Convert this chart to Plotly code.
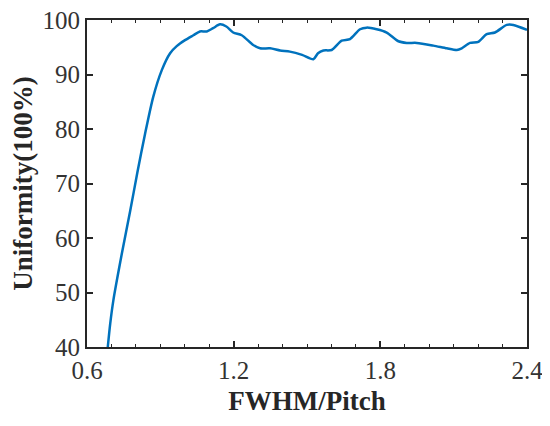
import plotly.graph_objects as go

fwhm_pitch = [0.685, 0.695, 0.708, 0.742, 0.776, 0.806, 0.837, 0.871, 0.906, 0.94, 0.967, 1.001,
              1.035, 1.062, 1.09, 1.116, 1.144, 1.17, 1.198, 1.233, 1.28, 1.308, 1.349, 1.39,
              1.43, 1.48, 1.526, 1.545, 1.567, 1.601, 1.642, 1.676, 1.717, 1.744, 1.785, 1.826,
              1.874, 1.908, 1.949, 2.017, 2.072, 2.113, 2.133, 2.167, 2.201, 2.235, 2.269,
              2.317, 2.344, 2.4]
uniformity = [40.0, 44.3, 48.6, 57.0, 64.8, 72.0, 79.0, 85.9, 90.8, 93.9, 95.2, 96.3,
              97.2, 97.9, 97.9, 98.5, 99.2, 98.8, 97.7, 97.2, 95.4, 94.8, 94.8, 94.4,
              94.2, 93.6, 92.8, 93.9, 94.4, 94.5, 96.2, 96.5, 98.3, 98.6, 98.3, 97.7,
              96.1, 95.8, 95.8, 95.3, 94.8, 94.5, 94.8, 95.8, 96.0, 97.4, 97.7,
              99.1, 99.1, 98.2]

x_ticks = [0.6, 1.2, 1.8, 2.4]
x_tick_labels = ["0.6", "1.2", "1.8", "2.4"]
y_ticks = [40, 50, 60, 70, 80, 90, 100]
y_tick_labels = ["40", "50", "60", "70", "80", "90", "100"]

fig = go.Figure()
fig.add_trace(go.Scatter(
    x=fwhm_pitch, y=uniformity, mode="lines",
    line=dict(color="#0072BD", width=2.5, shape="spline", smoothing=0.7),
    showlegend=False,
))

font_family = "Liberation Serif, Times New Roman, serif"
axis_color = "#262626"

# The page body has an 8px default margin, so the figure is offset by 8px.
fig.update_layout(
    width=542, height=418,
    margin=dict(l=79, r=23, t=12, b=79),
    paper_bgcolor="white", plot_bgcolor="white",
    font=dict(family=font_family, size=24, color="#333333"),
)
fig.update_xaxes(
    range=[0.6, 2.4], tickvals=x_ticks, ticktext=x_tick_labels, automargin=False,
    ticklabeloverflow="allow",
    ticks="inside", ticklen=6, tickwidth=1.5, tickcolor=axis_color,
    showline=True, linecolor=axis_color, linewidth=2, mirror="ticks",
    showgrid=False, zeroline=False,
    minor=dict(dtick=0.1, tick0=0.6, ticks="inside", ticklen=3, tickwidth=1.2, tickcolor=axis_color),
    title=dict(text="<b>FWHM/Pitch</b>", font=dict(size=27, color="#262626"), standoff=8),
    tickfont=dict(size=25),
)
fig.update_yaxes(
    range=[40, 100], tickvals=y_ticks, ticktext=y_tick_labels, automargin=False,
    ticklabeloverflow="allow",
    ticks="inside", ticklen=6, tickwidth=1.5, tickcolor=axis_color,
    showline=True, linecolor=axis_color, linewidth=2, mirror="ticks",
    showgrid=False, zeroline=False,
    title=dict(text="<b>Uniformity(100%)</b>", font=dict(size=27, color="#262626"), standoff=6),
    tickfont=dict(size=25),
)

fig.write_html("out.html")
